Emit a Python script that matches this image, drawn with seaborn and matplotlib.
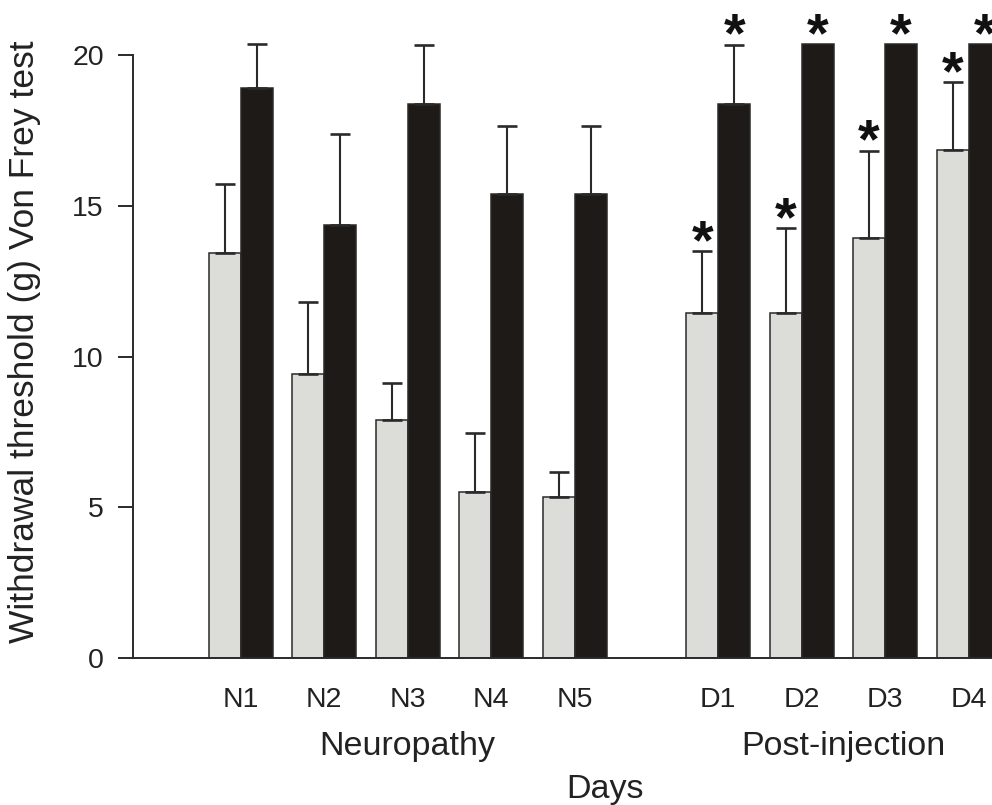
import numpy as np
import pandas as pd
import matplotlib
matplotlib.use("Agg")
import matplotlib.pyplot as plt
import matplotlib.transforms as mtransforms
import seaborn as sns

# ---- data ----
categories = ["N1", "N2", "N3", "N4", "N5", "D1", "D2", "D3", "D4"]
phase = ["Neuropathy"] * 5 + ["Post-injection"] * 4
gray_vals = [13.44, 9.42, 7.90, 5.50, 5.33, 11.43, 11.44, 13.93, 16.87]
gray_err = [2.28, 2.40, 1.23, 1.97, 0.83, 2.06, 2.81, 2.90, 2.23]
black_vals = [18.90, 14.36, 18.37, 15.40, 15.40, 18.38, 20.36, 20.36, 20.36]
black_err = [1.46, 3.03, 1.96, 2.26, 2.26, 1.97, np.nan, np.nan, np.nan]
gray_star = [False, False, False, False, False, True, True, True, True]
black_star = [False, False, False, False, False, True, True, True, True]
group_names = ["Control", "Treated"]
ylabel = "Withdrawal threshold (g) Von Frey test"
xlabel = "Days"

# ---- layout ----
sns.set_style("ticks")
plt.rcParams["font.family"] = ["Liberation Sans", "DejaVu Sans"]
TXT = "#222222"

gap_between_phases = 0.72
positions = []
for i, p in enumerate(phase):
    positions.append(i + (gap_between_phases if p == "Post-injection" else 0.0))
positions = np.array(positions)

df = pd.DataFrame({
    "x": np.concatenate([positions, positions]),
    "value": gray_vals + black_vals,
    "group": [group_names[0]] * len(categories) + [group_names[1]] * len(categories),
})

fig = plt.figure(figsize=(9.92, 8.05), dpi=100)
ax = fig.add_axes([0.134, 0.1826, 0.908, 0.7863])

pal = {group_names[0]: "#dcdcd9", group_names[1]: "#1e1a17"}
sns.barplot(data=df, x="x", y="value", hue="group", hue_order=group_names,
            palette=pal, native_scale=True, width=0.766, errorbar=None,
            edgecolor="#2a2a2a", linewidth=1.1, saturation=1, ax=ax,
            legend=False)

bw = 0.766 / 2
xg = positions - bw / 2
xb = positions + bw / 2
gv, ge = np.array(gray_vals), np.array(gray_err)
bv, be = np.array(black_vals), np.array(black_err)
ax.errorbar(xg, gv, yerr=[np.zeros_like(ge), ge], fmt="none", ecolor="#2a2a2a",
            elinewidth=1.5, capsize=7.5, capthick=1.9, zorder=1)
mb = ~np.isnan(be)
ax.errorbar(xb[mb], bv[mb], yerr=[np.zeros(mb.sum()), be[mb]], fmt="none",
            ecolor="#2a2a2a", elinewidth=1.5, capsize=7.5, capthick=1.9, zorder=1)

# significance stars
def add_stars(xs, vals, errs, flags):
    for x, v, e, s in zip(xs, vals, errs, flags):
        if s:
            top = v + (0 if np.isnan(e) else e)
            ax.annotate("*", (x, top), xytext=(0, -5), textcoords="offset points",
                        ha="center", va="baseline", fontsize=40, fontweight="bold",
                        color="#111111", annotation_clip=False)

add_stars(xg, gv, ge, gray_star)
add_stars(xb, bv, be, black_star)

ax.set_ylim(0, 21)
ax.set_xlim(-1.293, 9.5)
ax.set_yticks([0, 5, 10, 15, 20])
ax.set_yticklabels(["0", "5", "10", "15", "20"])
ax.set_xticks(positions)
ax.set_xticklabels(categories)
ax.tick_params(axis="y", length=11, width=1.4, color="#2a2a2a", pad=10,
               labelsize=20.5, labelcolor=TXT)
ax.tick_params(axis="x", length=0, pad=21, labelsize=20.5, labelcolor=TXT)

for s in ["top", "right"]:
    ax.spines[s].set_visible(False)
for s in ["left", "bottom"]:
    ax.spines[s].set_linewidth(1.4)
    ax.spines[s].set_color("#2a2a2a")
ax.spines["left"].set_bounds(0, 20)

ax.set_xlabel("")
ax.set_ylabel("")
fig.text(0.025, 0.575, ylabel, rotation=90, ha="center", va="center",
         fontsize=25.5, color=TXT)

trans = mtransforms.blended_transform_factory(ax.transData, fig.transFigure)
for ph in ["Neuropathy", "Post-injection"]:
    idx = [i for i, p in enumerate(phase) if p == ph]
    cx = positions[idx].mean()
    fig.text(cx, 0.062, ph, transform=trans, ha="center", va="baseline",
             fontsize=24.5, color=TXT)
fig.text((positions[0] + positions[-1]) / 2, 0.009, xlabel, transform=trans,
         ha="center", va="baseline", fontsize=24.5, color=TXT)

fig.savefig("out.png", dpi=100)
